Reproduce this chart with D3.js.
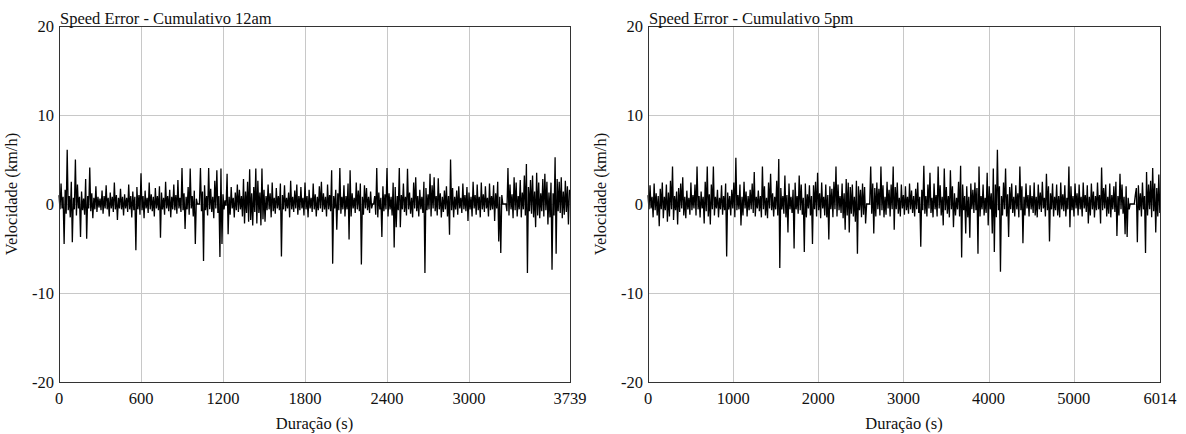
<!DOCTYPE html>
<html>
<head>
<meta charset="utf-8">
<script src="https://cdn.jsdelivr.net/npm/d3@7"></script>
<style>
    body { margin: 0; background: #fff; }
    svg { display: block; }
    text { font-family: "Liberation Serif", "DejaVu Serif", serif; fill: #111; font-size: 16.5px; }
    .grid line { stroke: #c8c8c8; stroke-width: 1; shape-rendering: crispEdges; }
    .frame { fill: none; stroke: #333; stroke-width: 1; shape-rendering: crispEdges; }
</style>
</head>
<body>
<svg id="chart" width="1186" height="434"></svg>
<script>
// Donnees (erreur de vitesse, km/h)
const leftTitle = "Speed Error - Cumulativo 12am";
const rightTitle = "Speed Error - Cumulativo 5pm";
const leftDuration = 3739;
const rightDuration = 6014;
const leftStep = 7.5;
const rightStep = 12;
const leftXTicks = [0, 600, 1200, 1800, 2400, 3000, 3739];
const rightXTicks = [0, 1000, 2000, 3000, 4000, 5000, 6014];
const yTicks = [-20, -10, 0, 10, 20];
const yGrid = [-10, 0, 10];

const leftSpeed = [
    1.0, -0.6, 2.3, -0.5, 0.8, -4.5, 1.6, -1.1, 6.1, -0.7, 0.9, -1.5, 2.5, -4.3, 0.7, -0.6, 5.0, -1.3, 2.2, -0.5,
    0.8, -3.7, 1.4, -0.7, 0.6, -1.2, 2.8, -3.9, 0.9, -0.5, 4.1, -0.8, 1.2, -1.6, 0.7, -0.6, 2.0, -0.9, 0.8, -0.4,
    0.6, -0.7, 1.5, -1.1, 0.9, -0.5, 2.1, -0.6, 0.7, -1.4, 1.3, -0.5, 0.8, -0.9, 2.4, -0.6, 1.0, -1.8, 0.7, -0.5,
    1.7, -0.6, 0.8, -1.3, 1.1, -0.5, 0.7, -0.9, 2.2, -0.6, 0.9, -1.5, 1.4, -0.7, 0.8, -5.2, 1.9, -0.6, 1.0, -1.2,
    3.45, -0.7, 0.9, -1.6, 1.5, -0.5, 0.7, -1.0, 2.4, -0.6, 1.1, -0.8, 0.8, -1.4, 1.8, -0.5, 0.9, -0.7, 2.0, -3.8,
    1.3, -0.6, 0.7, -1.2, 2.5, -0.5, 0.9, -0.8, 1.6, -1.5, 0.8, -0.6, 2.2, -0.7, 1.0, -1.1, 2.7, -0.5, 0.7, -0.9,
    4.05, -0.7, 1.2, -2.8, 0.8, -0.6, 1.9, -1.2, 4.0, -0.5, 0.9, -1.4, 1.5, -4.5, 0.6, 0, 0, 0, 4.05, -0.8,
    1.4, -6.4, 2.1, -0.7, 0.9, -1.3, 4.05, -0.6, 1.7, -0.9, 0.8, -1.6, 2.6, -0.5, 3.8, -1.0, 0.9, -5.95, 4.0, -4.5,
    1.1, -0.6, 0.4, -0.2, 3.4, -3.4, 0.8, -1.2, 1.9, -0.5, 0.7, -1.5, 1.3, -0.7, 2.2, -0.9, 1.6, -0.6, 0.9, -1.4,
    2.8, -2.2, 1.4, -1.0, 2.5, -2.0, 3.9, -1.8, 1.2, -2.4, 1.9, -0.9, 4.0, -2.2, 2.6, -1.0, 1.3, -2.4, 4.0, -1.7,
    1.6, -2.0, 0.9, -0.7, 2.2, -0.6, 1.2, -1.5, 2.4, -0.8, 0.7, -1.1, 1.8, -0.5, 0.9, -0.7, 2.3, -5.9, 1.0, -0.6,
    2.1, -0.8, 0.7, -0.5, 1.3, -1.5, 2.6, -0.6, 0.8, -0.9, 1.5, -0.5, 2.2, -1.2, 0.9, -0.7, 1.9, -0.5, 0.7, -1.3,
    2.4, -0.6, 0.9, -1.5, 1.6, -0.5, 0.7, -0.9, 2.3, -0.6, 1.1, -1.4, 0.8, -0.7, 2.0, -0.5, 2.5, -0.9, 1.2, -0.6,
    0.8, -1.4, 2.2, -0.6, 1.0, -0.8, 3.8, -6.7, 0.9, -0.5, 1.6, -2.9, 1.2, -0.7, 4.05, -1.1, 0.8, -0.6, 2.1, -1.4,
    0.9, -0.6, 2.3, -4.0, 3.8, -1.4, 1.2, -0.5, 0.7, -1.0, 2.4, -0.6, 1.5, -0.8, 2.3, -6.8, 0.8, -1.2, 2.1, -0.5,
    1.8, -0.7, 0.8, -1.0, 1.4, -0.5, 0, 0, 0.9, -1.2, 4.05, -1.5, 1.3, -0.6, 0.7, -3.7, 2.0, -0.8, 1.1, -0.6,
    4.05, -1.4, 1.2, -0.6, 0.8, -1.3, 2.4, -4.9, 1.9, -2.6, 0.9, -0.7, 4.05, -2.6, 1.0, -0.6, 2.3, -0.9, 0.8, -1.3,
    3.95, -0.6, 1.3, -1.1, 0.7, -1.5, 2.4, -0.5, 3.0, -0.8, 0.9, -1.4, 1.6, -0.6, 0.8, -1.0, 2.5, -7.75, 1.8, -0.7,
    1.1, -0.6, 3.4, -1.4, 2.1, -0.5, 3.0, -0.8, 0.9, -1.3, 2.9, -0.6, 1.2, -1.5, 0.8, -0.9, 1.5, -0.6, 2.0, -1.4,
    0.9, -3.45, 5.0, -0.7, 1.8, -1.5, 0.8, -0.6, 1.5, -1.2, 2.0, -0.5, 0.7, -1.0, 2.3, -0.6, 1.0, -0.8, 1.9, -1.9,
    1.3, -0.6, 0.8, -1.4, 2.5, -0.5, 1.0, -1.2, 2.2, -0.7, 0.8, -1.5, 2.4, -0.6, 1.1, -0.9, 2.0, -0.5, 0.7, -1.4,
    2.3, -0.7, 0.9, -0.6, 2.1, -1.9, 1.2, -0.5, 2.5, -4.2, 0.8, -5.5, 1.0, 0, 0, 0, 0, -0.8, 4.05, -1.3,
    2.2, -0.6, 1.1, -1.6, 3.0, -0.7, 2.4, -1.4, 0.9, -0.6, 2.7, -1.5, 1.3, -0.6, 3.2, -1.3, 4.5, -7.75, 1.9, -0.8,
    2.7, -1.1, 3.2, -1.5, 1.4, -2.6, 3.5, -1.3, 2.4, -1.6, 1.2, -0.8, 2.8, -1.4, 3.4, -0.7, 2.5, -2.3, 1.3, -1.5,
    2.4, -7.4, 1.2, -1.3, 5.25, -5.6, 2.8, -0.8, 2.5, -1.0, 3.0, -1.6, 1.4, -1.2, 2.6, -0.9, 2.0, -2.3, 1.6
];

const rightSpeed = [
    1.0, -0.6, 2.1, -0.5, 0.8, -1.5, 2.3, -0.7, 1.2, -1.3, 0.9, -2.5, 1.7, -0.6, 2.4, -1.6, 0.8, -0.7, 2.2, -2.0,
    1.3, -1.4, 2.6, -0.6, 4.2, -1.8, 0.9, -0.7, 1.4, -2.3, 1.8, -0.9, 2.3, -0.5, 3.0, -1.3, 0.8, -1.6, 1.5, -0.6,
    0.7, -1.2, 2.4, -0.7, 1.0, -0.5, 2.2, -1.3, 4.2, -0.6, 0.9, -1.5, 1.4, -0.5, 0.8, -2.2, 2.5, -0.8, 4.2, -1.4,
    1.1, -2.3, 2.2, -0.6, 4.2, -1.3, 0.8, -0.5, 1.6, -1.5, 0.7, -0.6, 2.1, -1.2, 0.9, -0.7, 2.3, -5.9, 1.3, -0.6,
    0.9, -1.3, 1.6, -0.5, 2.4, -1.5, 5.2, -0.7, 1.0, -0.6, 2.2, -2.4, 0.8, -1.3, 2.5, -0.5, 1.4, -1.4, 0.9, -0.7,
    1.6, -0.6, 2.3, -1.0, 3.6, -1.4, 0.8, -0.5, 1.5, -0.8, 0.9, -1.5, 4.2, -0.6, 2.0, -1.3, 0.7, -1.6, 2.4, -0.5,
    3.4, -0.7, 1.2, -1.4, 0.8, -0.6, 2.6, -1.3, 5.05, -7.2, 1.8, -0.6, 0.9, -1.1, 3.2, -1.5, 1.0, -3.2, 2.3, -0.6,
    0.8, -1.0, 1.6, -5.0, 2.4, -0.6, 0.9, -1.1, 3.2, -0.7, 2.2, -1.2, 0.7, -5.4, 2.3, -1.5, 1.1, -0.5, 2.1, -1.3,
    0.9, -4.5, 2.1, -0.6, 2.5, -1.4, 3.5, -0.7, 1.2, -1.6, 2.4, -0.5, 0.8, -1.3, 2.2, -1.5, 1.0, -4.0, 2.0, -0.6,
    1.7, -1.5, 2.5, -0.6, 4.2, -1.4, 2.2, -0.7, 0.9, -1.0, 2.3, -1.6, 1.2, -2.9, 2.8, -1.3, 2.4, -3.2, 1.9, -1.1,
    2.2, -1.4, 0.8, -2.0, 2.6, -5.6, 2.0, -0.7, 1.6, -1.5, 2.3, -1.2, 1.9, -2.2, 0, 0, 0, 0, 4.2, -1.1,
    2.3, -3.3, 1.8, -1.4, 2.4, -0.6, 1.7, -1.3, 4.2, -0.7, 2.1, -1.5, 0.8, -1.2, 2.5, -0.5, 1.6, -1.4, 2.2, -0.6,
    4.2, -2.9, 1.9, -0.6, 2.4, -1.1, 0.7, -1.4, 2.2, -0.5, 1.0, -1.2, 2.0, -0.7, 0.8, -1.1, 2.3, -0.6, 1.5, -1.0,
    0.9, -1.4, 1.7, -0.6, 2.4, -1.0, 0.8, -4.8, 1.6, -0.7, 4.3, -1.1, 0.9, -1.4, 2.2, -0.5, 3.5, -1.0, 0.7, -1.5,
    2.3, -0.6, 1.0, -1.4, 4.2, -0.5, 2.1, -1.3, 0.8, -2.4, 4.0, -0.7, 1.9, -1.1, 0.9, -1.5, 3.8, -0.6, 2.0, -2.6,
    1.2, -1.3, 0.7, -0.6, 2.5, -1.4, 4.3, -6.0, 2.2, -0.7, 0.9, -3.3, 2.0, -1.5, 0.8, -3.8, 2.3, -0.6, 1.6, -1.0,
    2.4, -0.7, 1.8, -5.6, 4.2, -1.4, 0.9, -0.6, 2.2, -1.3, 0.7, -1.0, 3.5, -2.4, 2.0, -0.6, 1.2, -3.3, 4.0, -5.4,
    2.2, -1.5, 6.1, -0.7, 2.0, -7.6, 0.9, -1.3, 2.4, -0.6, 4.0, -1.4, 1.1, -3.7, 1.9, -0.6, 2.3, -1.0, 0.8, -1.4,
    2.1, -0.6, 1.2, -1.5, 4.2, -0.7, 2.0, -4.4, 0.8, -1.3, 2.3, -0.5, 1.0, -1.4, 2.1, -0.6, 0.9, -1.0, 2.4, -1.3,
    0.8, -1.5, 2.2, -0.6, 1.3, -0.9, 2.5, -0.5, 0.7, -1.4, 3.4, -0.7, 2.0, -4.2, 1.2, -0.6, 2.3, -1.4, 0.8, -0.7,
    2.2, -1.3, 0.9, -1.5, 2.4, -0.6, 1.1, -0.8, 2.1, -1.4, 0.7, -0.6, 4.2, -2.6, 2.0, -0.7, 0.9, -1.4, 2.3, -0.5,
    1.2, -1.3, 2.2, -0.6, 0.8, -1.4, 2.4, -0.5, 1.0, -0.9, 2.1, -2.2, 0.8, -1.3, 2.3, -0.6, 1.4, -1.5, 0.9, -0.7,
    2.4, -0.6, 1.0, -2.2, 4.1, -0.7, 1.8, -0.5, 2.2, -1.4, 0.8, -1.1, 2.3, -1.5, 1.0, -0.6, 2.0, -0.9, 2.5, -3.6,
    0.9, -1.3, 3.4, -0.6, 2.2, -1.1, 0.8, -3.4, 2.0, -3.7, 0.7, -0.6, 0, 0, 0, 0, 0, 1.0, 1.8, -4.3,
    2.1, -0.7, 1.2, -1.4, 2.4, -0.6, 0.9, -5.5, 3.6, -1.3, 2.2, -0.6, 2.6, -1.5, 4.05, -0.8, 2.3, -3.2, 1.8, -1.4, 3.3, -1.0
];

// Position des deux graphiques
const plotTop = 26;
const plotBottom = 382;
const panels = [
    { left: 59, right: 570, title: leftTitle, duration: leftDuration, step: leftStep, xTicks: leftXTicks, values: leftSpeed },
    { left: 648, right: 1160, title: rightTitle, duration: rightDuration, step: rightStep, xTicks: rightXTicks, values: rightSpeed }
];

const svg = d3.select("#chart");

panels.forEach(function(panel) {
    drawPanel(panel);
});

function drawPanel(panel) {
    const xScale = d3.scaleLinear().domain([0, panel.duration]).range([panel.left, panel.right]);
    const yScale = d3.scaleLinear().domain([-20, 20]).range([plotBottom, plotTop]);
    const g = svg.append("g");

    // grille
    const grid = g.append("g").attr("class", "grid");
    grid.selectAll(".vgrid")
        .data(panel.xTicks.slice(1, -1))
        .enter()
        .append("line")
        .attr("x1", function(d) { return Math.round(xScale(d)) + 0.5; })
        .attr("x2", function(d) { return Math.round(xScale(d)) + 0.5; })
        .attr("y1", plotTop)
        .attr("y2", plotBottom);
    grid.selectAll(".hgrid")
        .data(yGrid)
        .enter()
        .append("line")
        .attr("x1", panel.left)
        .attr("x2", panel.right)
        .attr("y1", function(d) { return Math.round(yScale(d)) + 0.5; })
        .attr("y2", function(d) { return Math.round(yScale(d)) + 0.5; });

    // serie
    const line = d3.line()
        .x(function(d, i) { return xScale(Math.min(i * panel.step, panel.duration)); })
        .y(function(d) { return yScale(d); });

    g.append("path")
        .datum(panel.values)
        .attr("fill", "none")
        .attr("stroke", "#000")
        .attr("stroke-width", 1.3)
        .attr("d", line);

    // cadre
    g.append("rect")
        .attr("class", "frame")
        .attr("x", panel.left + 0.5)
        .attr("y", plotTop + 0.5)
        .attr("width", panel.right - panel.left)
        .attr("height", plotBottom - plotTop);

    // etiquettes
    g.selectAll(".ytick")
        .data(yTicks)
        .enter()
        .append("text")
        .attr("x", panel.left - 5)
        .attr("y", function(d) { return yScale(d); })
        .attr("dy", "0.35em")
        .attr("text-anchor", "end")
        .text(function(d) { return d; });

    g.selectAll(".xtick")
        .data(panel.xTicks)
        .enter()
        .append("text")
        .attr("x", function(d) { return xScale(d); })
        .attr("y", plotBottom + 22)
        .attr("text-anchor", "middle")
        .text(function(d) { return d; });

    g.append("text")
        .attr("x", (panel.left + panel.right) / 2)
        .attr("y", plotBottom + 47)
        .attr("text-anchor", "middle")
        .text("Duração (s)");

    g.append("text")
        .attr("transform", "translate(" + (panel.left - 42) + "," + 194 + ") rotate(-90)")
        .attr("text-anchor", "middle")
        .text("Velocidade (km/h)");

    g.append("text")
        .attr("x", panel.left + 1)
        .attr("y", plotTop - 2)
        .text(panel.title);
}
</script>
</body>
</html>
